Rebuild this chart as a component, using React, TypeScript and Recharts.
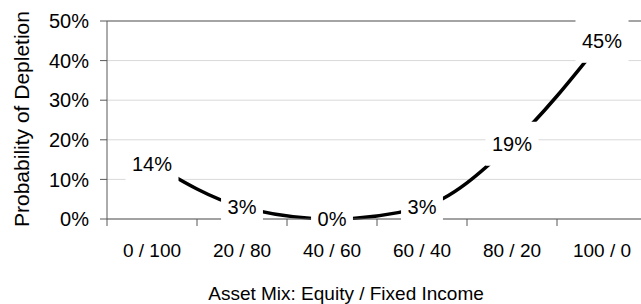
import { LineChart, Line, XAxis, YAxis, CartesianGrid, ReferenceLine, LabelList } from 'recharts';

const categories = ['0 / 100', '20 / 80', '40 / 60', '60 / 40', '80 / 20', '100 / 0'];
const depletion = [14, 3, 0, 3, 19, 45];
const yTicks = [0, 10, 20, 30, 40, 50];

const data = categories.map((mix, i) => ({ mix, value: depletion[i] }));

const FONT = '"Liberation Sans", Arial, sans-serif';
const CHART_W = 660;
const PLOT_LEFT = 107;
const PLOT_RIGHT = 647;
const HALF_BAND = (PLOT_RIGHT - PLOT_LEFT) / categories.length / 2;

const XTick = (props: any) => {
  const { x, y, payload } = props;
  return (
    <g>
      <line x1={x - HALF_BAND} y1={y} x2={x - HALF_BAND} y2={y + 7} stroke="#595959" />
      <text x={x} y={y + 31} textAnchor="middle" dominantBaseline="central" fontSize={19} fill="#000" fontFamily={FONT}>
        {payload.value}
      </text>
    </g>
  );
};

const ValueLabel = (props: any) => {
  const { x, y, value } = props;
  const text = `${value}%`;
  const w = (text.length - 1) * 11.1 + 17.8 + 13;
  return (
    <g>
      <rect x={x - w / 2} y={y - 22} width={w} height={44} fill="#fff" />
      <text x={x} y={y} textAnchor="middle" dominantBaseline="central" fontSize={20} fill="#000" fontFamily={FONT}>
        {text}
      </text>
    </g>
  );
};

export default function App() {
  return (
    <div style={{ width: 641, height: 304, overflow: 'hidden', background: '#fff', fontFamily: FONT }}>
      <style>{'body{margin:0}'}</style>
      <LineChart width={CHART_W} height={304} data={data} margin={{ top: 21, right: CHART_W - PLOT_RIGHT, bottom: 0, left: 0 }}>
        <CartesianGrid vertical={false} stroke="#d9d9d9" />
        <ReferenceLine y={50} stroke="#8c8c8c" strokeWidth={1.5} />
        <XAxis
          dataKey="mix"
          interval={0}
          padding={{ left: HALF_BAND, right: HALF_BAND }}
          height={85}
          tickSize={0}
          tickMargin={0}
          tick={<XTick />}
          axisLine={{ stroke: '#595959' }}
          label={() => (
            <text x={346} y={293} textAnchor="middle" dominantBaseline="central" fontSize={19} fill="#000" fontFamily={FONT}>
              Asset Mix: Equity / Fixed Income
            </text>
          )}
        />
        <YAxis
          width={PLOT_LEFT}
          domain={[0, 50]}
          ticks={yTicks}
          tickFormatter={(v: number) => `${v}%`}
          tickSize={7}
          tickMargin={11}
          tick={{ fontSize: 20, fill: '#000', fontFamily: FONT }}
          axisLine={{ stroke: '#595959' }}
          tickLine={{ stroke: '#595959' }}
          label={() => (
            <text
              x={21}
              y={119}
              transform="rotate(-90 21 119)"
              textAnchor="middle"
              dominantBaseline="central"
              fontSize={21}
              fill="#000"
              fontFamily={FONT}
            >
              Probability of Depletion
            </text>
          )}
        />
        <Line type="monotone" dataKey="value" stroke="#000" strokeWidth={3.5} dot={false} isAnimationActive={false}>
          <LabelList dataKey="value" content={<ValueLabel />} />
        </Line>
      </LineChart>
    </div>
  );
}
